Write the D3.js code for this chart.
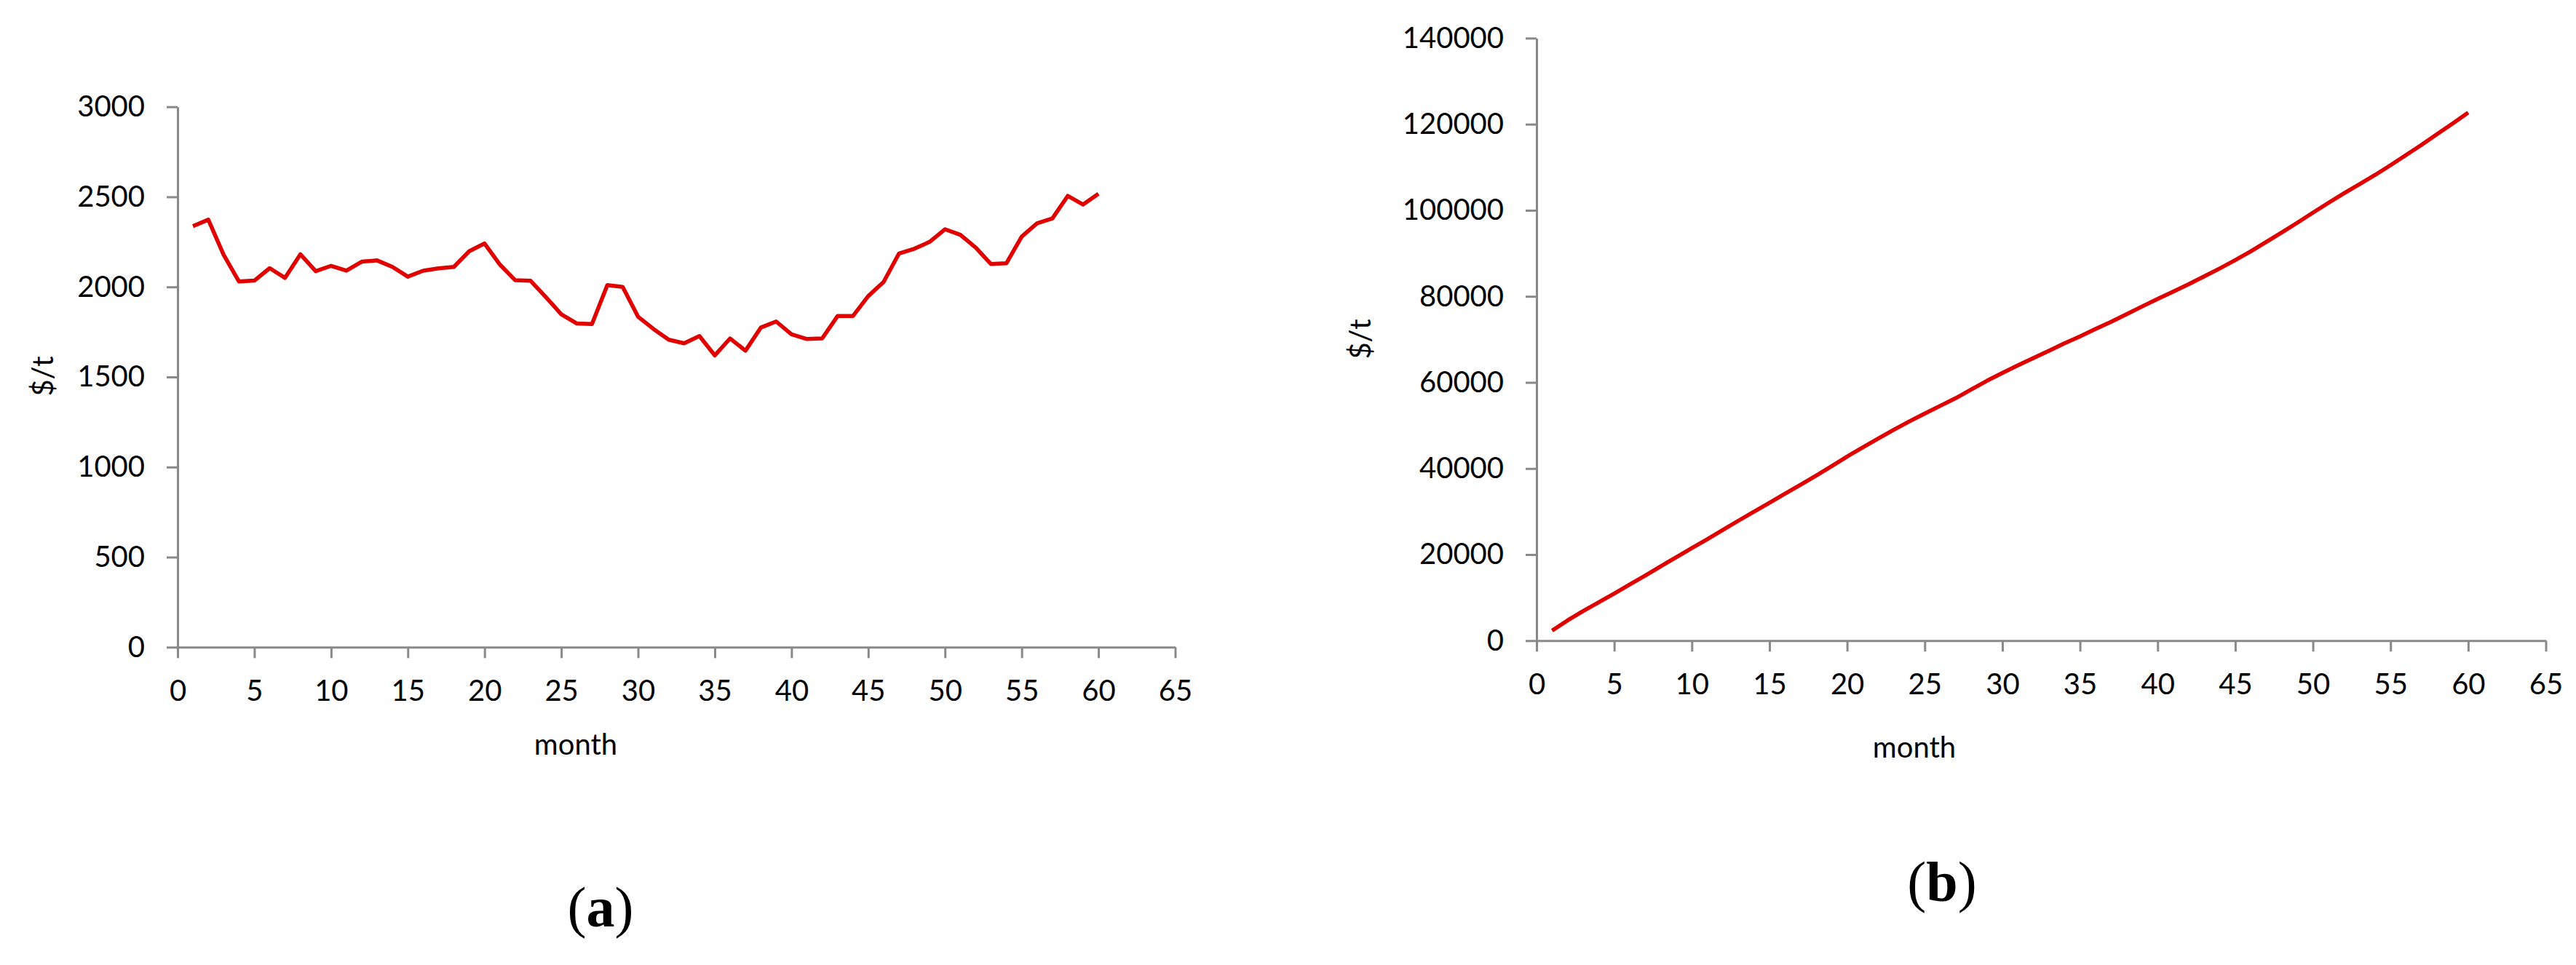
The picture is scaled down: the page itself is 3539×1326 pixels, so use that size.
<!DOCTYPE html>
<html>
<head>
<meta charset="utf-8">
<script src="https://cdn.jsdelivr.net/npm/d3@7"></script>
<style>
  html, body { margin: 0; padding: 0; background: #ffffff; }
  svg { display: block; }
  .tick text { font-family: Lato, "Open Sans", sans-serif; fill: #000; }
</style>
</head>
<body>
<script>
// ---------- data ----------
const months = [1,2,3,4,5,6,7,8,9,10,11,12,13,14,15,16,17,18,19,20,
  21,22,23,24,25,26,27,28,29,30,31,32,33,34,35,36,37,38,39,40,
  41,42,43,44,45,46,47,48,49,50,51,52,53,54,55,56,57,58,59,60];

// (a) monthly price, $/t
const priceA = [2337,2373,2178,2030,2035,2104,2050,2181,2087,2117,
  2090,2140,2147,2111,2057,2090,2103,2111,2198,2241,
  2124,2037,2034,1943,1848,1797,1794,2010,2000,1835,
  1767,1707,1687,1727,1620,1714,1646,1774,1808,1737,
  1711,1714,1838,1838,1949,2027,2185,2212,2250,2320,
  2289,2219,2127,2131,2279,2353,2380,2505,2457,2517];

// (b) accumulated value, $/t
const priceB = [2337,4710,6888,8918,10953,13057,15107,17288,19375,21492,
  23582,25722,27869,29980,32037,34127,36230,38341,40539,42780,
  44904,46941,48975,50918,52766,54563,56357,58367,60367,62202,
  63969,65676,67363,69090,70710,72424,74070,75844,77652,79389,
  81100,82814,84652,86490,88439,90466,92651,94863,97113,99433,
  101722,103941,106068,108199,110478,112831,115211,117716,120173,122690];

const xTicks = [0,5,10,15,20,25,30,35,40,45,50,55,60,65];
const yTicksA = [0,500,1000,1500,2000,2500,3000];
const yTicksB = [0,20000,40000,60000,80000,100000,120000,140000];

const xLabel = "month";
const yLabel = "$/t";
const captions = ["(a)", "(b)"];

// ---------- drawing ----------
const W = 3539, H = 1326;
const svg = d3.select("body").append("svg").attr("width", W).attr("height", H);
svg.append("rect").attr("width", W).attr("height", H).attr("fill", "#fff");

const AXIS_COLOR = "#898989";
const LINE_COLOR = "#e00000";
const FONT = "Lato, 'Open Sans', sans-serif";

function panel(cfg) {
  const x = d3.scaleLinear().domain([0, 65]).range([cfg.x0, cfg.x1]);
  const y = d3.scaleLinear().domain([0, cfg.yMax]).range([cfg.y0, cfg.y1]);
  const g = svg.append("g");

  const xAxis = g.append("g")
    .attr("transform", `translate(0,${cfg.y0})`)
    .call(d3.axisBottom(x).tickValues(xTicks).tickSize(15).tickSizeOuter(0).tickPadding(30));
  const yAxis = g.append("g")
    .attr("transform", `translate(${cfg.x0},0)`)
    .call(d3.axisLeft(y).tickValues(cfg.yTicks).tickSize(15).tickSizeOuter(0).tickPadding(30)
      .tickFormat(d3.format("d")));

  [xAxis, yAxis].forEach(a => {
    a.select(".domain").attr("stroke", AXIS_COLOR).attr("stroke-width", 3);
    a.selectAll(".tick line").attr("stroke", AXIS_COLOR).attr("stroke-width", 3);
    a.selectAll(".tick text").attr("font-size", 40).attr("font-family", FONT).attr("fill", "#000");
  });
  xAxis.selectAll(".tick text").attr("dy", "0.71em");

  g.append("path")
    .datum(months.map((m, i) => [m, cfg.values[i]]))
    .attr("fill", "none")
    .attr("stroke", LINE_COLOR)
    .attr("stroke-width", 5.5)
    .attr("stroke-linejoin", "round")
    .attr("d", d3.line().x(d => x(d[0])).y(d => y(d[1])));

  g.append("text")
    .attr("x", cfg.xLabelX).attr("y", cfg.xLabelY)
    .attr("text-anchor", "middle")
    .attr("font-family", FONT).attr("font-size", 40)
    .text(xLabel);

  g.append("text")
    .attr("transform", `translate(${cfg.yLabelX},${cfg.yLabelY}) rotate(-90)`)
    .attr("text-anchor", "middle").attr("dominant-baseline", "central")
    .attr("font-family", FONT).attr("font-size", 40)
    .text(yLabel);

  g.append("text")
    .attr("x", cfg.capX).attr("y", cfg.capY)
    .attr("text-anchor", "middle")
    .attr("font-family", "'Liberation Serif', 'Times New Roman', serif")
    .attr("font-size", 78)
    .each(function () {
      const t = d3.select(this);
      t.append("tspan").text("(");
      t.append("tspan").attr("font-weight", "bold").text(cfg.caption.slice(1, -1));
      t.append("tspan").text(")");
    });
}

panel({
  x0: 244, x1: 1614.5, y0: 889.3, y1: 146.7, yMax: 3000, yTicks: yTicksA,
  values: priceA, xLabelX: 791, xLabelY: 1037, yLabelX: 58, yLabelY: 517,
  caption: captions[0], capX: 825, capY: 1273
});

panel({
  x0: 2111, x1: 3497.5, y0: 880.3, y1: 52.4, yMax: 140000, yTicks: yTicksB,
  values: priceB, xLabelX: 2630, xLabelY: 1041, yLabelX: 1868, yLabelY: 466,
  caption: captions[1], capX: 2668, capY: 1238
});
</script>
</body>
</html>
